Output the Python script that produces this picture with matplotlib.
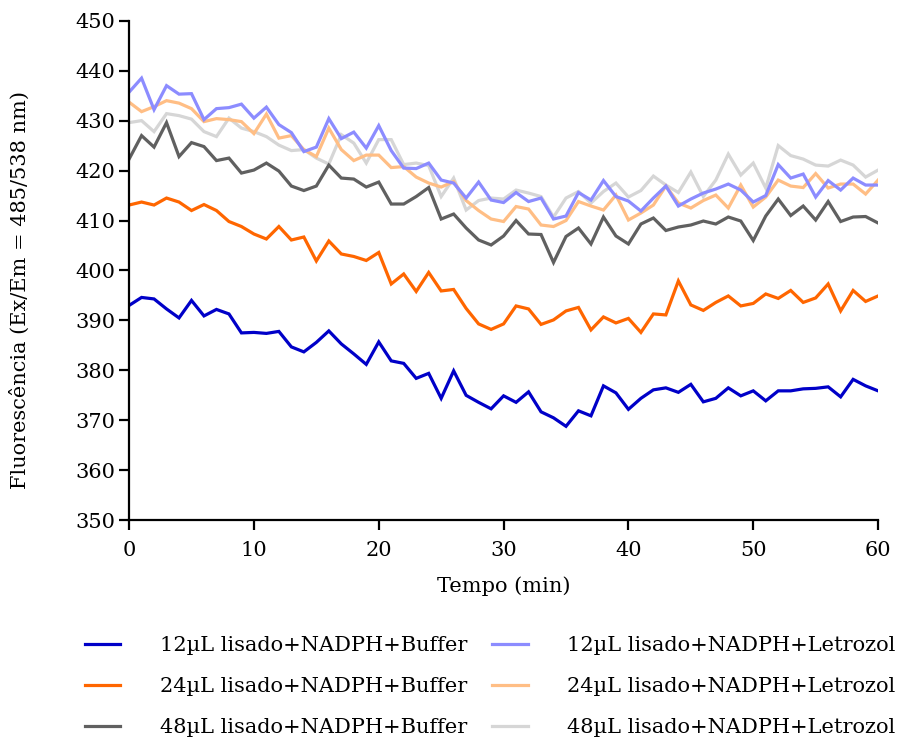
import numpy as np
import matplotlib.pyplot as plt

plt.rcParams['font.family'] = ['DejaVu Serif']

tempo = np.arange(0, 61)

buf_12 = [393.0, 394.6, 394.3, 392.3, 390.5, 394.0, 390.9, 392.2, 391.3, 387.5,
          387.6, 387.4, 387.8, 384.7, 383.7, 385.6, 387.9, 385.3, 383.3, 381.2,
          385.7, 381.9, 381.4, 378.4, 379.4, 374.4, 379.9, 375.0, 373.6, 372.3,
          374.9, 373.6, 375.7, 371.7, 370.5, 368.8, 371.9, 370.9, 376.9, 375.5,
          372.2, 374.4, 376.1, 376.5, 375.6, 377.2, 373.7, 374.4, 376.5, 374.9,
          375.9, 373.9, 375.9, 375.9, 376.3, 376.4, 376.7, 374.7, 378.2, 376.9,
          375.9]
buf_24 = [413.1, 413.7, 413.1, 414.5, 413.7, 412.0, 413.2, 412.0, 409.8, 408.8,
          407.3, 406.3, 408.8, 406.1, 406.7, 401.9, 405.9, 403.3, 402.8, 402.0,
          403.6, 397.3, 399.3, 395.8, 399.6, 395.9, 396.2, 392.4, 389.3, 388.2,
          389.3, 392.9, 392.3, 389.2, 390.1, 391.9, 392.6, 388.1, 390.7, 389.5,
          390.4, 387.6, 391.3, 391.1, 397.9, 393.1, 392.0, 393.6, 394.9, 392.9,
          393.4, 395.3, 394.4, 396.0, 393.6, 394.5, 397.3, 391.9, 396.0, 393.8,
          394.9]
buf_48 = [422.3, 427.0, 424.7, 429.6, 422.8, 425.6, 424.8, 422.0, 422.5, 419.5,
          420.1, 421.5, 419.9, 416.9, 416.0, 416.9, 421.1, 418.5, 418.3, 416.7,
          417.7, 413.3, 413.3, 414.8, 416.6, 410.3, 411.3, 408.5, 406.1, 405.1,
          406.9, 410.0, 407.3, 407.2, 401.6, 406.8, 408.5, 405.3, 410.7, 406.9,
          405.3, 409.3, 410.5, 408.0, 408.7, 409.1, 409.9, 409.3, 410.7, 409.9,
          406.0, 410.9, 414.3, 411.0, 412.9, 410.1, 413.8, 409.8, 410.7, 410.8,
          409.5]
let_12 = [435.7, 438.5, 432.2, 437.0, 435.3, 435.4, 430.2, 432.4, 432.6, 433.3,
          430.5, 432.7, 429.2, 427.6, 423.8, 424.7, 430.4, 426.4, 427.7, 424.5,
          429.0, 424.0, 420.5, 420.4, 421.5, 418.1, 417.5, 414.5, 417.7, 414.1,
          413.6, 415.6, 413.8, 414.5, 410.3, 410.9, 415.6, 414.1, 418.0, 414.8,
          413.9, 411.9, 414.5, 416.9, 412.9, 414.3, 415.5, 416.3, 417.3, 416.1,
          413.7, 415.0, 421.2, 418.5, 419.3, 414.7, 418.0, 416.1, 418.5, 417.1,
          417.1]
let_24 = [433.7, 431.8, 432.8, 434.0, 433.5, 432.4, 429.8, 430.4, 430.2, 429.8,
          427.4, 431.3, 426.5, 427.0, 424.2, 422.8, 428.5, 424.2, 422.0, 423.1,
          423.1, 420.6, 420.8, 418.7, 417.5, 416.7, 417.8, 414.0, 412.0, 410.3,
          409.8, 412.8, 412.3, 409.1, 408.8, 410.0, 413.8, 412.9, 412.1, 415.1,
          410.1, 411.5, 413.1, 416.9, 413.5, 412.5, 414.0, 415.1, 412.5, 417.1,
          412.7, 414.7, 418.1, 416.9, 416.6, 419.4, 416.5, 417.3, 417.3, 415.3,
          418.1]
let_48 = [429.6, 430.0, 427.8, 431.4, 431.0, 430.3, 427.8, 426.8, 430.5, 428.5,
          427.8, 426.8, 425.1, 424.0, 424.2, 422.5, 421.3, 427.2, 425.5, 421.5,
          426.2, 426.2, 421.2, 421.5, 421.0, 414.8, 418.5, 412.1, 414.0, 414.5,
          414.3, 416.1, 415.5, 414.8, 410.7, 414.5, 415.8, 413.5, 415.8, 417.5,
          414.7, 416.0, 418.9, 417.1, 415.6, 419.7, 414.8, 418.1, 423.3, 419.1,
          421.5, 416.5, 425.0, 423.0, 422.3, 421.1, 420.9, 422.1, 421.1, 418.7,
          420.1]

labels = ["12µL lisado+NADPH+Buffer", "24µL lisado+NADPH+Buffer",
          "48µL lisado+NADPH+Buffer", "12µL lisado+NADPH+Letrozol",
          "24µL lisado+NADPH+Letrozol", "48µL lisado+NADPH+Letrozol"]
colors = ["#0000C8", "#FF6600", "#606060", "#8C8CFF", "#FFBE85", "#D6D6D6"]


def main():
    fig = plt.figure(figsize=(9.09, 7.4), dpi=100)
    ax = fig.add_axes([0.142, 0.297, 0.824, 0.675])

    series = [buf_12, buf_24, buf_48, let_12, let_24, let_48]
    # light series first so the darker ones sit on top
    lines = {}
    for i in [5, 4, 3, 2, 1, 0]:
        ln, = ax.plot(tempo, series[i], color=colors[i], lw=2.3,
                      label=labels[i], solid_joinstyle='miter')
        lines[i] = ln

    ax.set_xlim(0, 60)
    ax.set_ylim(350, 450)
    ax.set_xticks(range(0, 61, 10))
    ax.set_yticks(range(350, 451, 10))
    ax.spines['top'].set_visible(False)
    ax.spines['right'].set_visible(False)
    ax.spines['left'].set_linewidth(1.6)
    ax.spines['bottom'].set_linewidth(1.6)
    ax.tick_params(direction='out', length=7, width=1.6, labelsize=15)
    ax.tick_params(axis='y', pad=3)
    ax.tick_params(axis='x', pad=8)
    ax.set_xlabel("Tempo (min)", fontsize=15, labelpad=12)
    ax.set_ylabel("Fluorescência (Ex/Em = 485/538 nm)", fontsize=15)
    ax.yaxis.set_label_coords(-0.132, 0.46)

    handles = [lines[i] for i in range(6)]
    fig.legend(handles, labels, loc='upper left', ncol=2, frameon=False,
               bbox_to_anchor=(0.0935, 0.14), borderaxespad=0, borderpad=0,
               fontsize=15, handlelength=1.7, handletextpad=1.9,
               columnspacing=1.2, labelspacing=1.05)

    fig.savefig("out.png", dpi=100)


if __name__ == "__main__":
    main()
